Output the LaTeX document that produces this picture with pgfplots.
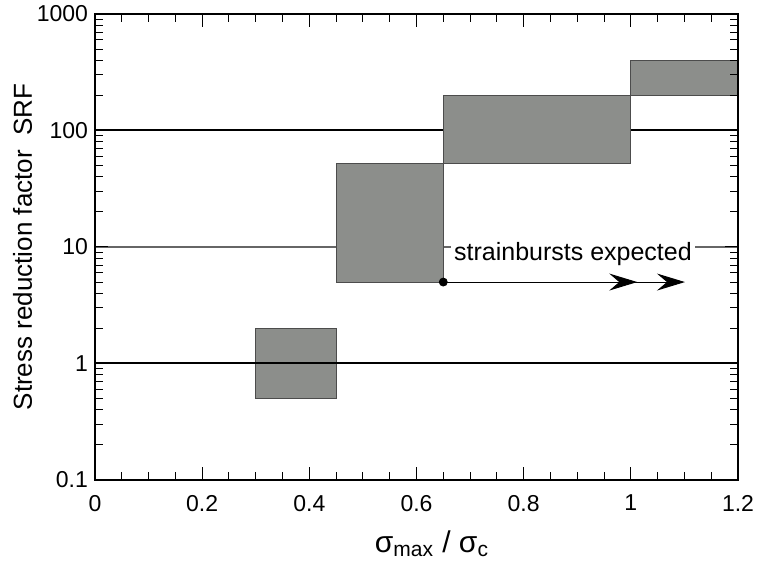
\documentclass[border=0pt]{standalone}
\usepackage{pgfplots}
\pgfplotsset{compat=1.18}
\usepackage{fontspec}
\setmainfont{Liberation Sans}
\usetikzlibrary{arrows.meta}
\definecolor{boxgray}{RGB}{140,142,139}
\begin{document}
\begin{tikzpicture}
\useasboundingbox (-47.5pt,-42.5pt) rectangle (331pt,240pt);
\begin{axis}[
  at={(0,0)}, anchor=south west, scale only axis,
  width=321.5pt, height=233pt,
  xmin=0, xmax=1.2, ymin=0.1, ymax=1000, ymode=log,
  xtick={0,0.2,0.4,0.6,0.8,1,1.2}, xticklabels={0,0.2,0.4,0.6,0.8,1,1.2},
  minor x tick num=3,
  ytick={0.1,1,10,100,1000}, yticklabels={0.1,1,10,100,1000},
  tick align=inside, tick pos=both,
  major tick length=6.5pt, minor tick length=4pt,
  axis line style={line width=0.9pt},
  every tick/.style={black, line width=0.5pt},
  tick label style={font=\fontsize{11.5}{13}\selectfont},
  xticklabel style={yshift=-4pt},
  /pgf/number format/assume math mode=true,
  xlabel={σ\textsubscript{max} / σ\textsubscript{c}},
  ylabel={Stress reduction factor\ \ SRF},
  label style={font=\fontsize{13}{15}\selectfont},
  xlabel style={at={(axis description cs:0.524,-0.155)}, anchor=base, font=\fontsize{15}{17}\selectfont},
  ylabel style={at={(axis description cs:-0.098,0.5)}, anchor=base},
  axis on top,
]
% reference lines
\addplot[black!60, line width=0.6pt] coordinates {(0,10) (1.2,10)};
\addplot[black, line width=1pt] coordinates {(0,100) (1.2,100)};
% boxes
\addplot[draw=black!70, fill=boxgray, line width=0.5pt] coordinates {(0.3,0.5) (0.45,0.5) (0.45,2) (0.3,2)} -- cycle;
\addplot[draw=black!70, fill=boxgray, line width=0.5pt] coordinates {(0.45,5) (0.65,5) (0.65,52) (0.45,52)} -- cycle;
\addplot[draw=black!70, fill=boxgray, line width=0.5pt] coordinates {(0.65,52) (1.0,52) (1.0,200) (0.65,200)} -- cycle;
\addplot[draw=black!70, fill=boxgray, line width=0.5pt] coordinates {(1.0,200) (1.2,200) (1.2,400) (1.0,400)} -- cycle;
\addplot[black, line width=1pt] coordinates {(0,1) (1.2,1)};
% strainburst arrow
\addplot[black, line width=0.5pt, -{Stealth[length=14pt,width=8.5pt,inset=5pt]}] coordinates {(0.65,5) (1.012,5)};
\addplot[black, line width=0.5pt, -{Stealth[length=14pt,width=8.5pt,inset=5pt]}] coordinates {(1.0,5) (1.101,5)};
\addplot[only marks, mark=*, mark size=2pt, black] coordinates {(0.65,5)};
\node[fill=white, inner sep=1.5pt, anchor=base, font=\fontsize{12.5}{14}\selectfont, yshift=-7pt] at (axis cs:0.892,10) {strainbursts expected};
\end{axis}
\end{tikzpicture}
\end{document}
